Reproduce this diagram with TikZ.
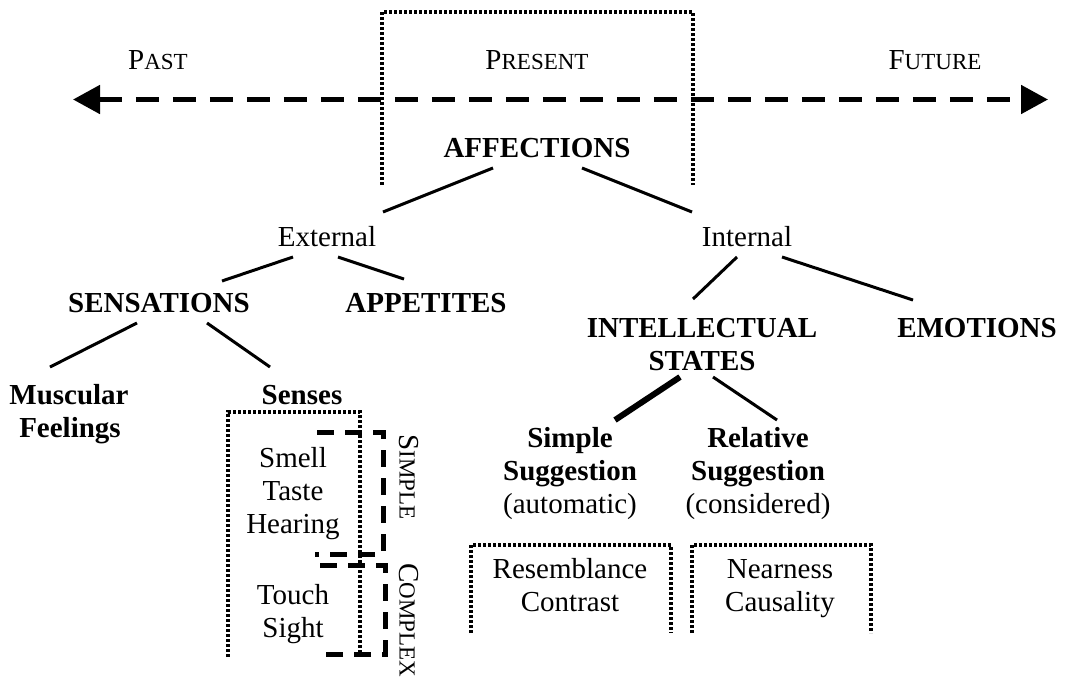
\documentclass[tikz,border=0pt]{standalone}
\usepackage{fontspec}
\setmainfont{Liberation Serif}
\usetikzlibrary{arrows.meta,calc}
% first letter full size, the rest as small capitals
\newcommand{\capsc}[2]{#1{\fontsize{23}{27}\selectfont #2}}
\begin{document}
\begin{tikzpicture}[x=1pt,y=-1pt,
  lbl/.style={inner sep=0pt, anchor=base, font=\fontsize{29}{33}\selectfont},
  bold/.style={lbl, font=\fontsize{29}{33}\selectfont\bfseries},
  branch/.style={line width=3pt},
  heavy/.style={line width=6pt},
  dotbox/.style={line width=3.5pt, dash pattern=on 3pt off 2pt},
  bracket/.style={line width=5pt, dash pattern=on 17pt off 11pt},
  timeline/.style={line width=5pt, dash pattern=on 23pt off 14pt,
    {Triangle[length=27pt,width=28pt]}-{Triangle[length=27pt,width=28pt]}}
]
\useasboundingbox (0,0) rectangle (1067,681);

% time axis
\coordinate (pastend) at (73,99.5);
\coordinate (futureend) at (1048,99.5);
\draw[timeline] (pastend) -- (futureend);

% open dotted frames
\draw[dotbox] (382,185) -- (382,12) -- (693,12) -- (693,185);
\draw[dotbox] (228,657) -- (228,412) -- (360,412) -- (360,657);
\draw[dotbox] (471,633) -- (471,545) -- (671,545) -- (671,633);
\draw[dotbox] (692,633) -- (692,545) -- (871,545) -- (871,633);

% dashed brackets for the senses
\draw[bracket] (317,432) -- (383,432) -- (383,554) -- (315,554);
\draw[bracket] (320,565) -- (385,565) -- (385,654) -- (317,654);

% labels
\node[lbl] (past) at (158,69) {\capsc{P}{AST}};
\node[lbl] (present) at (537,69) {\capsc{P}{RESENT}};
\node[lbl] (future) at (935,69) {\capsc{F}{UTURE}};

\node[bold] (aff) at (537,157) {AFFECTIONS};
\node[lbl] (ext) at (327,246) {External};
\node[lbl] (int) at (747,246) {Internal};
\node[bold] (sens) at (159,312) {SENSATIONS};
\node[bold] (app) at (426,312) {APPETITES};
\node[bold] (intel) at (702,337) {INTELLECTUAL};
\node[bold] (states) at (702,370) {STATES};
\node[bold] (emo) at (977,337) {EMOTIONS};
\node[bold] (musc) at (69,404) {Muscular};
\node[bold] (feel) at (70,437) {Feelings};
\node[bold] (senses) at (302,404) {Senses};

\node[lbl] (smell) at (293,467) {Smell};
\node[lbl] (taste) at (293,500) {Taste};
\node[lbl] (hearing) at (293,533) {Hearing};
\node[lbl] (touch) at (293,604) {Touch};
\node[lbl] (sight) at (293,637) {Sight};
\node[lbl, anchor=center, rotate=-90] (simpletag) at (409,477) {\capsc{S}{IMPLE}};
\node[lbl, anchor=center, rotate=-90] (complextag) at (409,620) {\capsc{C}{OMPLEX}};

\node[bold] (simple) at (570,447) {Simple};
\node[bold] (simsug) at (570,480) {Suggestion};
\node[lbl] (auto) at (570,513) {(automatic)};
\node[bold] (rel) at (758,447) {Relative};
\node[bold] (relsug) at (758,480) {Suggestion};
\node[lbl] (cons) at (758,513) {(considered)};

\node[lbl] (resem) at (570,578) {Resemblance};
\node[lbl] (contr) at (570,611) {Contrast};
\node[lbl] (near) at (780,578) {Nearness};
\node[lbl] (caus) at (780,611) {Causality};

% tree branches
\draw[branch] ($(aff.base)+(-44,11)$) -- ($(ext.base)+(56,-34)$);
\draw[branch] ($(aff.base)+(45,11)$) -- ($(int.base)+(-55,-34)$);
\draw[branch] ($(ext.base)+(-34,11)$) -- ($(sens.base)+(63,-31)$);
\draw[branch] ($(ext.base)+(11,11)$) -- ($(app.base)+(-22,-33)$);
\draw[branch] ($(int.base)+(-10,11)$) -- ($(intel.base)+(-9,-38)$);
\draw[branch] ($(int.base)+(35,11)$) -- ($(emo.base)+(-64,-37)$);
\draw[branch] ($(sens.base)+(-22,11)$) -- ($(musc.base)+(-19,-37)$);
\draw[branch] ($(sens.base)+(48,11)$) -- ($(senses.base)+(-32,-37)$);
\draw[heavy] ($(states.base)+(-22,7)$) -- ($(simple.base)+(45,-27)$);
\draw[branch] ($(states.base)+(11,7)$) -- ($(rel.base)+(19,-27)$);
\end{tikzpicture}
\end{document}
